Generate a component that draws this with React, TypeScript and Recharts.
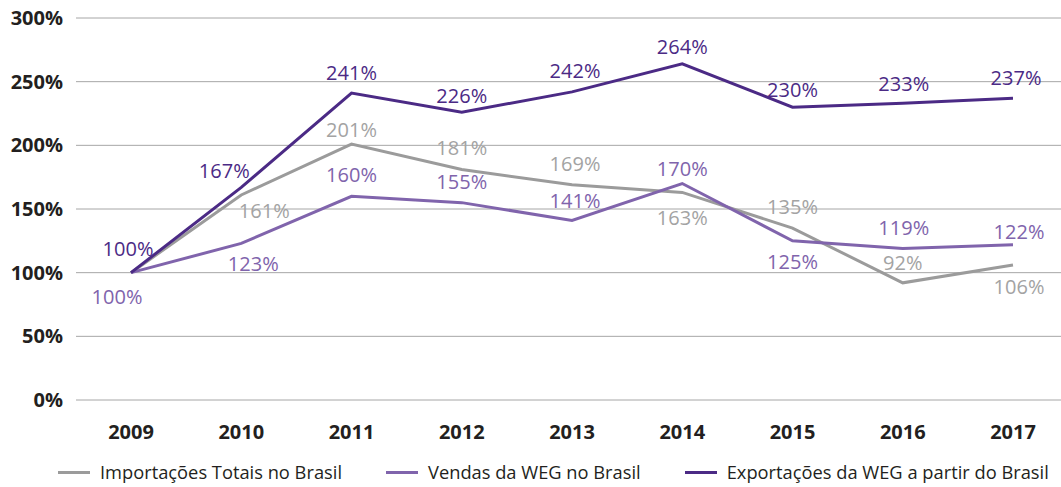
import React from 'react';
import { LineChart, Line, XAxis, YAxis, CartesianGrid, LabelList } from 'recharts';

const years = ['2009', '2010', '2011', '2012', '2013', '2014', '2015', '2016', '2017'];
const importacoes = [100, 161, 201, 181, 169, 163, 135, 92, 106];
const vendas = [100, 123, 160, 155, 141, 170, 125, 119, 122];
const exportacoes = [100, 167, 241, 226, 242, 264, 230, 233, 237];
const yTicks = [0, 50, 100, 150, 200, 250, 300];

const seriesNames = [
  'Importações Totais no Brasil',
  'Vendas da WEG no Brasil',
  'Exportações da WEG a partir do Brasil',
];

const GRAY = '#9b9b9b';
const GRAY_TEXT = '#a3a3a3';
const LIGHT = '#8064ac';
const DARK = '#4b2a85';

// label placement, [dx, dy] from the point to the label centre
const impOffsets: (number[] | null)[] = [null, [23, 16], [0, -14], [0, -22], [3, -21], [0, 25], [0, -21], [0, -20], [6, 22]];
const venOffsets: (number[] | null)[] = [[-14, 24], [12, 20], [0, -21], [0, -21], [3, -20], [0, -15], [0, 21], [1, -21], [6, -13]];
const expOffsets: (number[] | null)[] = [[-3, -24], [-17, -17], [0, -20], [0, -16], [3, -21], [0, -17], [0, -17], [1, -20], [3, -20]];

const chartData = years.map((year, i) => ({
  year,
  imp: importacoes[i],
  ven: vendas[i],
  exp: exportacoes[i],
}));

const FONT = '"Open Sans", "DejaVu Sans", sans-serif';

const makeLabel = (offsets: (number[] | null)[], color: string) => (props: any) => {
  const { x, y, index, value } = props;
  const off = offsets[index];
  if (!off) return null;
  return (
    <text
      x={x + off[0]}
      y={y + off[1]}
      dy="0.36em"
      textAnchor="middle"
      fill={color}
      fontSize={20}
      fontFamily={FONT}
    >
      {`${value}%`}
    </text>
  );
};

const legendItems = [
  { name: seriesNames[0], color: GRAY },
  { name: seriesNames[1], color: LIGHT },
  { name: seriesNames[2], color: DARK },
];

export default function App() {
  return (
    <div style={{ position: 'absolute', left: 0, top: 0, width: 1061, height: 487, background: '#fff', fontFamily: FONT }}>
      <LineChart width={1061} height={487} data={chartData} margin={{ top: 18, right: 0, left: 0, bottom: 47 }}>
        <CartesianGrid vertical={false} stroke="#a6a6a6" strokeWidth={1} />
        <XAxis
          dataKey="year"
          axisLine={false}
          tickLine={false}
          padding={{ left: 55, right: 48 }}
          tickMargin={19}
          height={40}
          tick={{ fill: '#231f20', fontSize: 20, fontWeight: 700, fontFamily: FONT }}
        />
        <YAxis
          domain={[0, 300]}
          ticks={yTicks}
          width={76}
          axisLine={false}
          tickLine={false}
          tickMargin={7}
          tickFormatter={(v) => `${v}%`}
          tick={{ fill: '#231f20', fontSize: 20, fontWeight: 700, fontFamily: FONT }}
        />
        <Line type="linear" dataKey="imp" name={seriesNames[0]} stroke={GRAY} strokeWidth={3} dot={false} isAnimationActive={false}>
          <LabelList dataKey="imp" content={makeLabel(impOffsets, GRAY_TEXT)} />
        </Line>
        <Line type="linear" dataKey="ven" name={seriesNames[1]} stroke={LIGHT} strokeWidth={3} dot={false} isAnimationActive={false}>
          <LabelList dataKey="ven" content={makeLabel(venOffsets, LIGHT)} />
        </Line>
        <Line type="linear" dataKey="exp" name={seriesNames[2]} stroke={DARK} strokeWidth={3} dot={false} isAnimationActive={false}>
          <LabelList dataKey="exp" content={makeLabel(expOffsets, DARK)} />
        </Line>
      </LineChart>
      <div style={{ position: 'absolute', left: 58, top: 459, display: 'flex', alignItems: 'center', fontSize: 18.3, color: '#231f20', whiteSpace: 'nowrap' }}>
        {legendItems.map((item, i) => (
          <div key={i} style={{ display: 'flex', alignItems: 'center', marginRight: 44 }}>
            <div style={{ width: 32, height: 3, background: item.color, marginRight: 10 }} />
            <span style={{ lineHeight: '26px' }}>{item.name}</span>
          </div>
        ))}
      </div>
    </div>
  );
}
